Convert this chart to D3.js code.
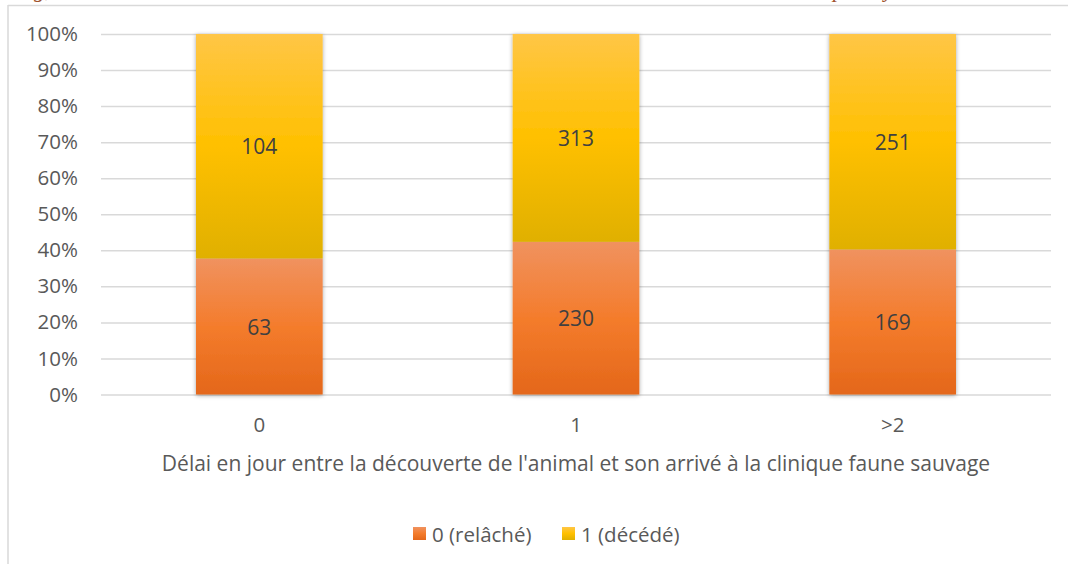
<!DOCTYPE html>
<html>
<head>
<meta charset="utf-8">
<script src="https://cdn.jsdelivr.net/npm/d3@7"></script>
<style>
  body { margin: 0; background: #fff; }
  svg { display: block; font-family: "Open Sans", sans-serif; }
</style>
</head>
<body>
<div id="chart"></div>
<script>
// data
var categories = ["0", "1", ">2"];
var released = [63, 230, 169];   // 0 (relâché)
var died = [104, 313, 251];      // 1 (décédé)
var seriesNames = ["0 (relâché)", "1 (décédé)"];
var yTicks = [0, 0.1, 0.2, 0.3, 0.4, 0.5, 0.6, 0.7, 0.8, 0.9, 1];
var xTitle = "Délai en jour entre la découverte de l'animal et son arrivé à la clinique faune sauvage";

var width = 1068, height = 564;
var margin = { top: 34, right: 17, bottom: 169.5, left: 101 };

var svg = d3.select("#chart").append("svg").attr("width", width).attr("height", height);

var defs = svg.append("defs");
var grads = [["gOrange", "#f0925f", "#f47c2c", "#e4671a"], ["gYellow", "#ffc646", "#ffc000", "#e0b000"]];
grads.forEach(function (g) {
    var lg = defs.append("linearGradient").attr("id", g[0]).attr("x1", 0).attr("y1", 0).attr("x2", 0).attr("y2", 1);
    lg.append("stop").attr("offset", "0%").attr("stop-color", g[1]);
    lg.append("stop").attr("offset", "50%").attr("stop-color", g[2]);
    lg.append("stop").attr("offset", "100%").attr("stop-color", g[3]);
});
defs.append("filter").attr("id", "shadow").attr("x", "-10%").attr("y", "-5%").attr("width", "120%").attr("height", "110%")
    .append("feDropShadow").attr("dx", 0).attr("dy", 1).attr("stdDeviation", 2.2).attr("flood-color", "#000").attr("flood-opacity", 0.35);

// frame of the chart area (only top and left visible)
svg.append("line").attr("x1", 8).attr("y1", 5.5).attr("x2", width).attr("y2", 5.5).attr("stroke", "#d9d9d9").attr("stroke-width", 1.5);
svg.append("line").attr("x1", 8).attr("y1", 5).attr("x2", 8).attr("y2", height).attr("stroke", "#d9d9d9").attr("stroke-width", 1.5);

// clipped caption glyphs above the frame (the page caption is cut off in the picture)
var cap = svg.append("g").attr("fill", "#a0522d").attr("font-family", "'Liberation Serif', serif").attr("font-style", "italic").attr("font-size", 22);
cap.append("text").attr("x", 34).attr("y", -3).text("g,");
cap.append("text").attr("x", 833).attr("y", -3).text("p");
cap.append("text").attr("x", 884).attr("y", -3).text("y");

var x = d3.scaleBand().domain(categories).range([margin.left, width - margin.right]).paddingInner(0.6).paddingOuter(0.3);
var y = d3.scaleLinear().domain([0, 1]).range([height - margin.bottom, margin.top]);

// gridlines + y labels
var yAxis = svg.append("g").attr("transform", "translate(" + margin.left + ",0)")
    .call(d3.axisLeft(y).tickValues(yTicks).tickFormat(d3.format(".0%")).tickSize(-(width - margin.left - margin.right)).tickPadding(23));
yAxis.select(".domain").remove();
yAxis.selectAll(".tick line").attr("stroke", "#d9d9d9").attr("stroke-width", 1.5);
yAxis.selectAll(".tick text").attr("fill", "#595959").attr("font-size", 20.5).attr("font-family", "'Open Sans', sans-serif");

// stacked data
var rows = categories.map(function (c, i) {
    var total = released[i] + died[i];
    return { cat: c, r: released[i], d: died[i], rp: released[i] / total };
});

var bars = svg.append("g").attr("filter", "url(#shadow)");
bars.selectAll(".r").data(rows).enter().append("rect")
    .attr("x", function (d) { return x(d.cat); })
    .attr("y", function (d) { return y(d.rp); })
    .attr("width", x.bandwidth())
    .attr("height", function (d) { return y(0) - y(d.rp); })
    .attr("fill", "url(#gOrange)");
bars.selectAll(".d").data(rows).enter().append("rect")
    .attr("x", function (d) { return x(d.cat); })
    .attr("y", y(1))
    .attr("width", x.bandwidth())
    .attr("height", function (d) { return y(d.rp) - y(1); })
    .attr("fill", "url(#gYellow)");

// data labels
var labels = svg.append("g").attr("fill", "#404040").attr("font-size", 21).attr("text-anchor", "middle").attr("dominant-baseline", "central");
labels.selectAll(".lr").data(rows).enter().append("text")
    .attr("x", function (d) { return x(d.cat) + x.bandwidth() / 2; })
    .attr("y", function (d) { return (y(0) + y(d.rp)) / 2; })
    .text(function (d) { return d.r; });
labels.selectAll(".ld").data(rows).enter().append("text")
    .attr("x", function (d) { return x(d.cat) + x.bandwidth() / 2; })
    .attr("y", function (d) { return (y(d.rp) + y(1)) / 2; })
    .text(function (d) { return d.d; });

// x axis
var xAxis = svg.append("g").attr("transform", "translate(0," + y(0) + ")")
    .call(d3.axisBottom(x).tickSize(0).tickPadding(23));
xAxis.select(".domain").remove();
xAxis.selectAll(".tick text").attr("fill", "#595959").attr("font-size", 20.5).attr("font-family", "'Open Sans', sans-serif");

svg.append("text").attr("x", 576).attr("y", 471)
    .attr("text-anchor", "middle").attr("fill", "#595959").attr("font-size", 21).text(xTitle);

// legend
var legColors = ["url(#gOrange)", "url(#gYellow)"];
var legX = [413, 562];
var leg = svg.append("g");
seriesNames.forEach(function (s, i) {
    leg.append("rect").attr("x", legX[i]).attr("y", 527).attr("width", 13).attr("height", 13).attr("fill", legColors[i]);
    leg.append("text").attr("x", legX[i] + 19).attr("y", 534).attr("dominant-baseline", "central")
        .attr("fill", "#595959").attr("font-size", 20.5).text(s);
});
</script>
</body>
</html>
